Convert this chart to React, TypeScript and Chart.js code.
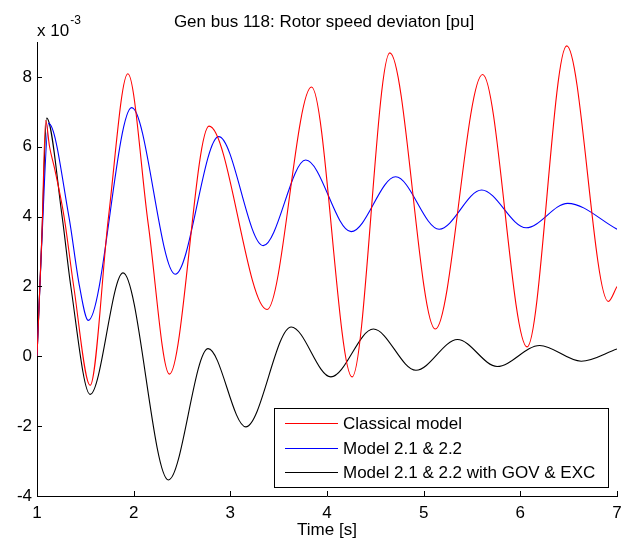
import React, { useEffect, useRef } from "react";
import { Chart, registerables } from "chart.js";

Chart.register(...registerables);

// ---- data (time in s, values in 1e-3 pu) ----
const seriesLabels = ["Classical model", "Model 2.1 & 2.2", "Model 2.1 & 2.2 with GOV & EXC"];
const seriesColors = ["#ff0000", "#0000ff", "#000000"];

const classicalT = [1.0, 1.05, 1.09, 1.13, 1.18, 1.28, 1.38, 1.55, 1.74, 1.94, 2.15, 2.37, 2.78, 3.38, 3.84, 4.26, 4.65, 5.12, 5.61, 6.07, 6.48, 6.91, 7.0];
const classicalV = [0.0, 3.4, 6.76, 6.0, 5.4, 4.0, 2.0, -0.83, 4.0, 8.09, 3.8, -0.51, 6.59, 1.34, 7.71, -0.59, 8.69, 0.78, 8.07, 0.27, 8.89, 1.57, 2.0];

const model21T = [1.0, 1.05, 1.12, 1.33, 1.44, 1.53, 1.98, 2.43, 2.88, 3.34, 3.78, 4.25, 4.71, 5.16, 5.6, 6.06, 6.49, 7.0];
const model21V = [0.0, 3.3, 6.67, 4.0, 2.0, 1.03, 7.12, 2.35, 6.29, 3.17, 5.62, 3.57, 5.14, 3.64, 4.76, 3.68, 4.38, 3.64];

const govExcT = [1.0, 1.05, 1.1, 1.26, 1.35, 1.55, 1.89, 2.36, 2.77, 3.16, 3.63, 4.04, 4.48, 4.92, 5.35, 5.76, 6.2, 6.63, 7.0];
const govExcV = [0.0, 3.4, 6.82, 4.0, 2.0, -1.09, 2.39, -3.54, 0.22, -2.02, 0.84, -0.59, 0.78, -0.4, 0.48, -0.29, 0.31, -0.14, 0.21];

const xTicks = [1, 2, 3, 4, 5, 6, 7];
const yTicks = [-4, -2, 0, 2, 4, 6, 8];
const xRange = [1, 7];
const yRange = [-4, 9];

const titleText = "Gen bus 118: Rotor speed deviaton [pu]";
const xAxisLabel = "Time [s]";
const exponentBase = "x 10";
const exponentPower = "-3";

const FONT = "'Liberation Sans', Arial, Helvetica, sans-serif";

const toPoints = (t: number[], v: number[]) => t.map((x, i) => ({ x, y: v[i] }));

const decorPlugin = {
  id: "matlabDecor",
  afterDraw(chart: any) {
    const ctx = chart.ctx as CanvasRenderingContext2D;
    const area = chart.chartArea;
    const xs = chart.scales.x;
    const ys = chart.scales.y;
    ctx.save();
    // inward ticks
    ctx.strokeStyle = "#000";
    ctx.lineWidth = 1;
    ctx.beginPath();
    xTicks.forEach((v) => {
      const px = Math.round(xs.getPixelForValue(v)) + 0.5;
      ctx.moveTo(px, area.bottom);
      ctx.lineTo(px, area.bottom - 5);
    });
    yTicks.forEach((v) => {
      const py = Math.round(ys.getPixelForValue(v)) + 0.5;
      ctx.moveTo(area.left, py);
      ctx.lineTo(area.left + 5, py);
    });
    ctx.stroke();

    // title
    ctx.fillStyle = "#000";
    ctx.font = `17px ${FONT}`;
    ctx.textAlign = "center";
    ctx.textBaseline = "alphabetic";
    ctx.fillText(titleText, (area.left + area.right) / 2 - 3, 27);

    // exponent label
    ctx.textAlign = "left";
    ctx.font = `17px ${FONT}`;
    ctx.fillText(exponentBase, 37, 36);
    const w = ctx.measureText(exponentBase).width;
    ctx.font = `12px ${FONT}`;
    ctx.fillText(exponentPower, 37 + w + 1, 24);

    // legend box
    const bx = 274.5, by = 408.5, bw = 334, bh = 79;
    ctx.fillStyle = "#fff";
    ctx.fillRect(bx, by, bw, bh);
    ctx.strokeStyle = "#000";
    ctx.lineWidth = 1;
    ctx.strokeRect(bx, by, bw, bh);
    const rows = [423.5, 448.5, 472.5];
    ctx.font = `17px ${FONT}`;
    ctx.textBaseline = "middle";
    ctx.textAlign = "left";
    chart.data.datasets.forEach((ds: any, i: number) => {
      ctx.strokeStyle = ds.borderColor;
      ctx.beginPath();
      ctx.moveTo(285, rows[i]);
      ctx.lineTo(338, rows[i]);
      ctx.stroke();
      ctx.fillStyle = "#000";
      ctx.fillText(ds.label, 343, rows[i] + 1);
    });
    ctx.restore();
  },
};

export default function App() {
  const canvasRef = useRef<HTMLCanvasElement | null>(null);

  useEffect(() => {
    if (!canvasRef.current) return;
    const chart = new Chart(canvasRef.current, {
      type: "line",
      data: {
        datasets: [
          { label: seriesLabels[0], data: toPoints(classicalT, classicalV), borderColor: seriesColors[0] },
          { label: seriesLabels[1], data: toPoints(model21T, model21V), borderColor: seriesColors[1] },
          { label: seriesLabels[2], data: toPoints(govExcT, govExcV), borderColor: seriesColors[2] },
        ].map((d) => ({
          ...d,
          borderWidth: 1.1,
          pointRadius: 0,
          fill: false,
          cubicInterpolationMode: "monotone" as const,
        })),
      },
      options: {
        animation: false,
        responsive: false,
        maintainAspectRatio: false,
        layout: { padding: { left: 0, right: 14, top: 42, bottom: 0 } },
        plugins: { legend: { display: false }, tooltip: { enabled: false }, title: { display: false } },
        scales: {
          x: {
            type: "linear",
            min: xRange[0],
            max: xRange[1],
            grid: { display: false, drawTicks: false },
            border: { display: true, color: "#000", width: 1 },
            afterBuildTicks: (s: any) => {
              s.ticks = xTicks.map((v) => ({ value: v }));
            },
            afterFit: (s: any) => {
              s.height = 46;
            },
            ticks: { color: "#000", font: { family: FONT, size: 17 }, padding: 7, maxRotation: 0, autoSkip: false },
            title: { display: true, text: xAxisLabel, color: "#000", font: { family: FONT, size: 17 }, padding: { top: 0, bottom: 1 } },
          },
          y: {
            type: "linear",
            min: yRange[0],
            max: yRange[1],
            grid: { display: false, drawTicks: false },
            border: { display: true, color: "#000", width: 1 },
            afterBuildTicks: (s: any) => {
              s.ticks = yTicks.map((v) => ({ value: v }));
            },
            afterFit: (s: any) => {
              s.width = 37;
            },
            ticks: { color: "#000", font: { family: FONT, size: 17 }, padding: 5, autoSkip: false },
          },
        },
      },
      plugins: [decorPlugin],
    });
    return () => chart.destroy();
  }, []);

  return (
    <div style={{ position: "fixed", left: 0, top: 0, width: 631, height: 542, background: "#fff" }}>
      <canvas ref={canvasRef} width={631} height={542} style={{ width: 631, height: 542 }} />
    </div>
  );
}
